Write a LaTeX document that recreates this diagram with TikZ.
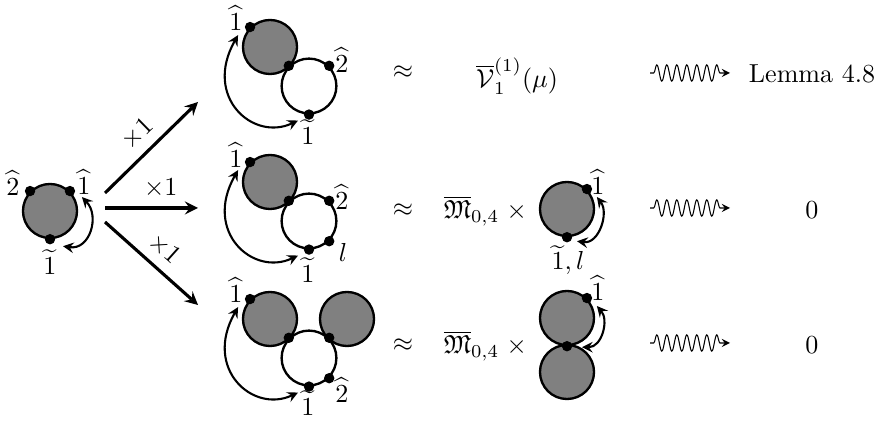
\documentclass[tikz,border=0pt]{standalone}
\usepackage{amssymb}
\usetikzlibrary{calc,decorations.pathmorphing}
\tikzset{
  blob/.style={circle, draw, line width=0.9pt, fill=gray, minimum size=0.73cm, inner sep=0pt},
  hole/.style={circle, draw, line width=0.9pt, minimum size=0.74cm, inner sep=0pt},
  swapA/.style={<->, thick},
  leads/.style={-stealth, decorate, decoration={snake, amplitude=1.1mm, segment length=1.35mm, pre length=0.5mm, post length=1.3mm}},
}
\begin{document}
\begin{tikzpicture}[>=stealth, x=0.0135cm, y=0.0135cm]
  \useasboundingbox (0,0) rectangle (877,421);
  % left blob
  \node[blob] (L) at (50,210) {};
  \fill (L.135) circle (2pt) (L.45) circle (2pt) (L.270) circle (2pt);
  \node (L2) at (13,238) {$\widehat{2}$};
  \node (L1) at (84,239) {$\widehat{1}$};
  \node (Lt) at (50,159) {$\widetilde{1}$};
  \coordinate (La) at ($(L.270)+(13,-7)$);
  \coordinate (Lb) at ($(L.45)+(12,-6)$);
  \draw[swapA] (La) .. controls +(27,-4) and +(18,-19) .. (Lb);
  % three branches
  \coordinate (o1) at (105,228);
  \coordinate (o2) at (105,213);
  \coordinate (o3) at (105,199);
  \coordinate (t1) at (198,319);
  \coordinate (t2) at (198,213);
  \coordinate (t3) at (198,116);
  \draw[->, very thick] (o1) -- (t1) node[midway, sloped, above] {$\times 1$};
  \draw[->, very thick] (o2) -- (t2) node[pos=0.6, above] {$\times 1$};
  \draw[->, very thick] (o3) -- (t3) node[midway, sloped, above] {$\times 1$};
  % top row
  \node[blob] (A1) at (270,374) {};
  \node[hole] (A2) at (309,335) {};
  \fill (A1.135) circle (2pt) (A2.135) circle (2pt) (A2.45) circle (2pt) (A2.270) circle (2pt);
  \node (A1h) at (236,403) {$\widehat{1}$};
  \node (A2h) at (342,361) {$\widehat{2}$};
  \node (A1t) at (308,289) {$\widetilde{1}$};
  \coordinate (Aa) at ($(A2.270)+(-11,-6)$);
  \coordinate (Ab) at ($(A1.135)+(-12,-8)$);
  \draw[swapA] (Aa) .. controls +(-45,-21) and +(-35,-62) .. (Ab);
  % middle row
  \node[blob] (B1) at (270,239) {};
  \node[hole] (B2) at (309,200) {};
  \fill (B1.135) circle (2pt) (B2.135) circle (2pt) (B2.45) circle (2pt) (B2.270) circle (2pt) (B2.-45) circle (2pt);
  \node (B1h) at (236,266) {$\widehat{1}$};
  \node (B2h) at (342,224) {$\widehat{2}$};
  \node (Bl) at (343,169) {$l$};
  \node (B1t) at (308,151) {$\widetilde{1}$};
  \coordinate (Ba) at ($(B2.270)+(-11,-6)$);
  \coordinate (Bb) at ($(B1.135)+(-12,-8)$);
  \draw[swapA] (Ba) .. controls +(-45,-21) and +(-35,-62) .. (Bb);
  % bottom row
  \node[blob] (C1) at (270,102) {};
  \node[blob] (C3) at (347,102) {};
  \node[hole] (C2) at (309,63) {};
  \fill (C1.135) circle (2pt) (C2.135) circle (2pt) (C2.45) circle (2pt) (C2.270) circle (2pt) (C2.-45) circle (2pt);
  \node (C1h) at (236,131) {$\widehat{1}$};
  \node (C2h) at (342,31) {$\widehat{2}$};
  \node (C1t) at (308,18) {$\widetilde{1}$};
  \coordinate (Ca) at ($(C2.270)+(-11,-6)$);
  \coordinate (Cb) at ($(C1.135)+(-12,-8)$);
  \draw[swapA] (Ca) .. controls +(-45,-21) and +(-35,-62) .. (Cb);
  % right hand sides
  \node (apA) at (403,349) {$\approx$};
  \node (apB) at (403,211) {$\approx$};
  \node (apC) at (403,76) {$\approx$};
  \node (rA) at (517,345) {$\overline{\mathcal{V}}_1^{(1)}(\mu)$};
  \node[anchor=east] (rB) at (536,210) {$\overline{\mathfrak{M}}_{0,4}\;\times$};
  \node[anchor=east] (rC) at (536,75) {$\overline{\mathfrak{M}}_{0,4}\;\times$};
  \node[blob] (D) at (567,212) {};
  \fill (D.45) circle (2pt) (D.270) circle (2pt);
  \node (Dh) at (598,239) {$\widehat{1}$};
  \node (Dt) at (568,161) {$\widetilde{1},l$};
  \coordinate (Da) at ($(D.270)+(10,-4)$);
  \coordinate (Db) at ($(D.45)+(10,-8)$);
  \draw[swapA] (Da) .. controls +(22,-3) and +(12,-16) .. (Db);
  \node[blob] (E) at (567,103) {};
  \node[blob] (F) at (567,49) {};
  \fill (E.45) circle (2pt) (E.270) circle (2pt);
  \node (Eh) at (598,133) {$\widehat{1}$};
  \coordinate (Ea) at ($(E.270)+(15,-1)$);
  \coordinate (Eb) at ($(E.45)+(10,-8)$);
  \draw[swapA] (Ea) .. controls +(20,0) and +(12,-14) .. (Eb);
  % conclusions
  \coordinate (sA) at (650,348);
  \coordinate (eA) at (730,348);
  \coordinate (sB) at (650,213);
  \coordinate (eB) at (730,213);
  \coordinate (sC) at (650,78);
  \coordinate (eC) at (730,78);
  \draw[leads] (sA) -- (eA);
  \draw[leads] (sB) -- (eB);
  \draw[leads] (sC) -- (eC);
  \node (cA) at (812,347) {Lemma 4.8};
  \node (cB) at (812,211) {$0$};
  \node (cC) at (812,76) {$0$};
\end{tikzpicture}
\end{document}
